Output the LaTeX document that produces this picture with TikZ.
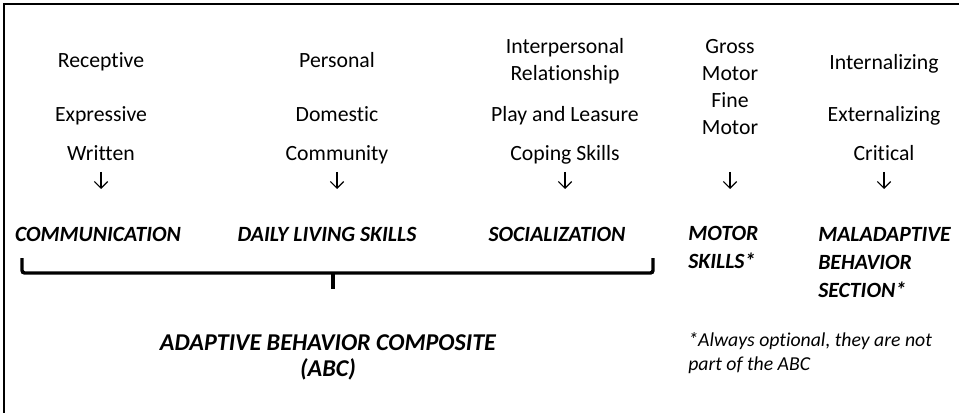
\documentclass[tikz,border=0pt]{standalone}
\usepackage{fontspec}
\setmainfont{Carlito}[Ligatures={NoCommon,NoContextual}]
\usetikzlibrary{arrows.meta, positioning}
\tikzset{item/.style={align=center, inner sep=0pt, font=\fontsize{16.3pt}{20.25pt}\selectfont},
         line/.style={text height=0.62em, text depth=0pt},
         head/.style={align=left, inner sep=0pt, font=\fontsize{16.3pt}{21pt}\selectfont\bfseries\itshape},
         note/.style={align=left, inner sep=0pt, font=\fontsize{14.8pt}{18pt}\selectfont\itshape},
         darr/.style={-{Straight Barb[length=5pt, width=10pt]}, line width=0.9pt},
         brace/.style={line width=2.6pt, rounded corners=2pt}}

\begin{document}
\begin{tikzpicture}[x=0.75pt, y=-0.75pt]
        \useasboundingbox (0,0) rectangle (959,413);
        % frame, only top and left
        \draw[line width=1pt] (959,4) -- (4,4) -- (4,413);

        % sub domains
        \node[item, line] (rec) at (101,63) {Receptive};
        \node[item, line] (exp) at (101,117) {Expressive};
        \node[item, line] (wri) at (101,156) {Written};
        \node[item, line] (pers) at (337,63) {Personal};
        \node[item, line] (dom) at (337,117) {Domestic};
        \node[item, line] (cmty) at (337,156) {Community};
        \node[item] (inter) at (565,61) {Interpersonal\\Relationship};
        \node[item, line] (play) at (565,117) {Play and Leasure};
        \node[item, line] (cope) at (565,156) {Coping Skills};
        \node[item] (motor) at (730,87) {Gross\\Motor\\Fine\\Motor};
        \node[item, line] (intz) at (884,65) {Internalizing};
        \node[item, line] (extz) at (884,117) {Externalizing};
        \node[item, line] (crit) at (884,156) {Critical};

        \foreach \x/\n in {101/1, 337/2, 565/3, 730/4, 884/5} {
            \coordinate (top\n) at (\x,172);
            \coordinate (bot\n) at (\x,189);
            \draw[darr] (top\n) -- (bot\n);
        }

        % domains
        \node[head, line] (com) at (98,237) {COMMUNICATION};
        \node[head, line] (dls) at (327,237) {DAILY LIVING SKILLS};
        \node[head, line] (soc) at (557,237) {SOCIALIZATION};
        \node[head, anchor=west] (mot) at (688,247) {MOTOR\\SKILLS*};
        \node[head, anchor=west] (mal) at (818,263) {MALADAPTIVE\\BEHAVIOR\\SECTION*};

        \coordinate (bl) at (22,258);
        \coordinate (br) at (653,258);
        \coordinate (bm) at (333,273);
        \coordinate (tip) at (333,289);
        \draw[brace] (bl) |- (bm) -| (br);
        \draw[brace] (bm) -- (tip);

        \node[head, align=center, font=\fontsize{18.1pt}{19.5pt}\selectfont\bfseries\itshape] (abc) at (328,357) {ADAPTIVE BEHAVIOR COMPOSITE\\(ABC)};
        \node[note, anchor=west] (opt) at (688,353) {*Always optional, they are not\\part of the ABC};
    \end{tikzpicture}
\end{document}
